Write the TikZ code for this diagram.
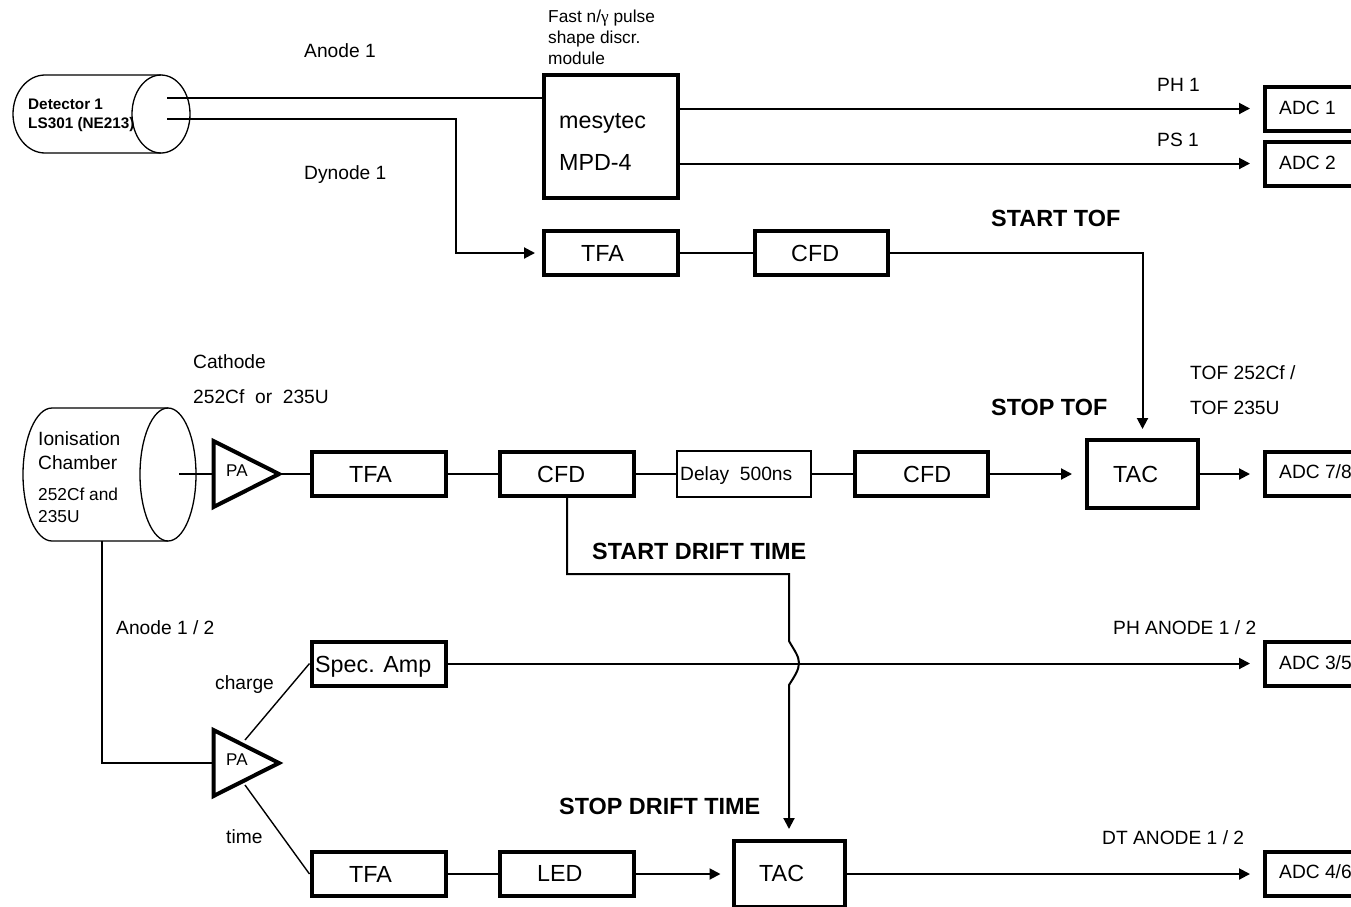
\documentclass[tikz,border=0pt]{standalone}
\usepackage{fontspec}
\setmainfont{Liberation Sans}
\newfontfamily\serifgreek{Liberation Serif}
\usetikzlibrary{arrows.meta}
\tikzset{
  thickbox/.style={draw=black,line width=4pt,inner sep=0pt,minimum width=#1},
  thinbox/.style={draw=black,line width=1.5pt,inner sep=0pt},
  wire/.style={draw=black,line width=2pt},
  arrowwire/.style={wire,-{Triangle[length=11pt,width=11pt]}},
  adcarrow/.style={arrowwire,shorten >=13pt},
  thinshape/.style={draw=black,line width=1.3pt},
  ampshape/.style={draw=black,line width=4pt,line join=miter},
  lab/.style={anchor=base west,inner sep=0pt,font=\fontsize{19.2}{19}\selectfont},
  labsmall/.style={anchor=base west,inner sep=0pt,font=\fontsize{17.3}{17}\selectfont},
  labbig/.style={anchor=base west,inner sep=0pt,font=\fontsize{23.3}{23}\selectfont},
  labbold/.style={anchor=base west,inner sep=0pt,font=\fontsize{23.4}{23}\selectfont\bfseries},
  labdet/.style={anchor=base west,inner sep=0pt,font=\fontsize{15.3}{15}\selectfont\bfseries},
  labpa/.style={anchor=base west,inner sep=0pt,font=\fontsize{17}{17}\selectfont},
}
\begin{document}
\begin{tikzpicture}[x=1pt,y=-1pt]
\useasboundingbox (0,0) rectangle (1351,906);
\clip (0,0) rectangle (1351,906);
% boxes
\node[thickbox=134pt,minimum height=123pt] (mpd) at (611,136.5) {};
\node[thickbox=134pt,minimum height=44pt] (tfaA) at (611,253) {};
\node[thickbox=133pt,minimum height=44pt] (cfdA) at (821.5,253) {};
\node[thickbox=140pt,minimum height=44pt] (adcA) at (1335,108.5) {};
\node[thickbox=140pt,minimum height=44pt] (adcB) at (1335,163.5) {};
\node[thickbox=134pt,minimum height=44pt] (tfaB) at (379,474) {};
\node[thickbox=134pt,minimum height=44pt] (cfdB) at (567,474) {};
\node[thinbox,minimum width=134pt,minimum height=46pt] (delay) at (744,474) {};
\node[thickbox=133pt,minimum height=44pt] (cfdC) at (921.5,474) {};
\node[thickbox=111pt,minimum height=68pt] (tacA) at (1142.5,474) {};
\node[thickbox=140pt,minimum height=44pt] (adcC) at (1335,474) {};
\node[thickbox=134pt,minimum height=44pt] (spec) at (378.5,663.5) {};
\node[thickbox=140pt,minimum height=44pt] (adcD) at (1335,663.5) {};
\node[thickbox=134pt,minimum height=44pt] (tfaC) at (378.5,874) {};
\node[thickbox=134pt,minimum height=44pt] (led) at (567,874) {};
\node[thickbox=111pt,minimum height=66pt] (tacB) at (789,874) {};
\node[thickbox=140pt,minimum height=44pt] (adcE) at (1335,874) {};
% detector cylinder
\path[thinshape] (161,75) -- (45,75) .. controls (27.3,75) and (13,92.5) .. (13,114)
  .. controls (13,135.5) and (27.3,153) .. (45,153) -- (161,153);
\draw[thinshape] (161,114) ellipse [x radius=29,y radius=39];
\coordinate (detAnode) at (167,98);
\coordinate (detDynode) at (167,119);
% chamber cylinder
\path[thinshape] (168,408) -- (52,408) .. controls (36,408) and (23,438) .. (23,474.5)
  .. controls (23,511) and (36,541) .. (52,541) -- (168,541);
\draw[thinshape] (168,474.5) ellipse [x radius=28,y radius=66.5];
\coordinate (chamCathode) at (179,474);
\coordinate (chamBottom) at (102,541);
% amplifiers
\coordinate (paAin) at (213,474);
\coordinate (paAout) at (280,474);
\coordinate (paBin) at (213,763);
\coordinate (paBup) at (245,740);
\coordinate (paBdown) at (245,785);
\draw[ampshape] (213.5,441) -- (279,474) -- (213.5,507) -- cycle;
\draw[ampshape] (213.5,730) -- (279,763) -- (213.5,796) -- cycle;
% connectors
\draw[wire] (detAnode) -- (detAnode -| mpd.west);
\draw[arrowwire] (detDynode) -- (456,119) |- ([xshift=-7pt]tfaA.west);
\draw[adcarrow] (mpd.east |- adcA.west) -- (adcA.west);
\draw[adcarrow] (mpd.east |- adcB.west) -- (adcB.west);
\draw[wire] (tfaA) -- (cfdA);
\draw[arrowwire] (cfdA.east) -| ([yshift=9pt]tacA.north);
\draw[wire] (chamCathode) -- (paAin);
\draw[wire] (paAout) -- (tfaB.west);
\draw[wire] (tfaB) -- (cfdB);
\draw[wire] (cfdB) -- (delay);
\draw[wire] (delay) -- (cfdC);
\draw[arrowwire,shorten >=13pt] (cfdC.east) -- (tacA.west);
\draw[adcarrow] (tacA.east) -- (adcC.west);
\draw[wire] (chamBottom) |- (paBin);
\draw[wire,line width=1.4pt] (paBup) -- (spec.west);
\draw[wire,line width=1.4pt] (paBdown) -- (tfaC.west);
\draw[adcarrow] (spec.east) -- (adcD.west);
\draw[wire] (tfaC) -- (led);
\draw[arrowwire,shorten >=11pt] (led.east) -- (tacB.west);
\draw[adcarrow] (tacB.east) -- (adcE.west);
\coordinate (cfdBdrop) at (567,496);
\draw[arrowwire] (cfdBdrop) -- (567,574) -- (789,574) -- (789,641)
  .. controls (794,650) and (799,656) .. (799,663)
  .. controls (799,670) and (794,677) .. (789,685)
  -- ([yshift=10pt]tacB.north);
% texts
\node[labsmall] (t1) at (548,22) {Fast n/{\serifgreek γ} pulse};
\node[labsmall] (t2) at (548,43) {shape discr.};
\node[labsmall] (t3) at (548,64) {module};
\node[lab] (t4) at (304,57) {Anode 1};
\node[lab] (t5) at (304,179) {Dynode 1};
\node[labdet] (t6) at (28,109) {Detector 1};
\node[labdet] (t7) at (28,128) {LS301 (NE213)};
\node[labbig] (t8) at (559,128) {mesytec};
\node[labbig] (t9) at (559,170) {MPD-4};
\node[labbig] (t10) at (581,261) {TFA};
\node[labbig] (t11) at (791,261) {CFD};
\node[lab] (t12) at (1157,91) {PH 1};
\node[lab] (t13) at (1157,146) {PS 1};
\node[lab] (t14) at (1279,114) {ADC 1};
\node[lab] (t15) at (1279,169) {ADC 2};
\node[labbold] (t16) at (991,226) {START TOF};
\node[labbold] (t17) at (991,415) {STOP TOF};
\node[lab] (t18) at (193,368) {Cathode};
\node[lab] (t19) at (193,403) {252Cf\ \ or\ \ 235U};
\node[lab] (t20) at (1190,379) {TOF 252Cf /};
\node[lab] (t21) at (1190,414) {TOF 235U};
\node[lab] (t22) at (38,445) {Ionisation};
\node[lab] (t23) at (38,469) {Chamber};
\node[labsmall] (t24) at (38,500) {252Cf and};
\node[labsmall] (t25) at (38,522) {235U};
\node[labpa] (t26) at (226,476) {PA};
\node[labbig] (t27) at (349,482) {TFA};
\node[labbig] (t28) at (537,482) {CFD};
\node[lab] (t29) at (680,480) {Delay\ \ 500ns};
\node[labbig] (t30) at (903,482) {CFD};
\node[labbig] (t31) at (1113,482) {TAC};
\node[lab] (t32) at (1279,478) {ADC 7/8};
\node[labbold] (t33) at (592,559) {START DRIFT TIME};
\node[lab] (t34) at (116,634) {Anode 1 / 2};
\node[lab] (t35) at (1113,634) {PH ANODE 1 / 2};
\node[lab] (t36) at (215,689) {charge};
\node[labbig] (t37) at (315,672) {Spec. Amp};
\node[lab] (t38) at (1279,669) {ADC 3/5};
\node[labpa] (t39) at (226,765) {PA};
\node[lab] (t40) at (226,843) {time};
\node[labbold] (t41) at (559,814) {STOP DRIFT TIME};
\node[lab] (t42) at (1102,844) {DT ANODE 1 / 2};
\node[labbig] (t43) at (349,882) {TFA};
\node[labbig] (t44) at (537,881) {LED};
\node[labbig] (t45) at (759,881) {TAC};
\node[lab] (t46) at (1279,878) {ADC 4/6};
\end{tikzpicture}
\end{document}
